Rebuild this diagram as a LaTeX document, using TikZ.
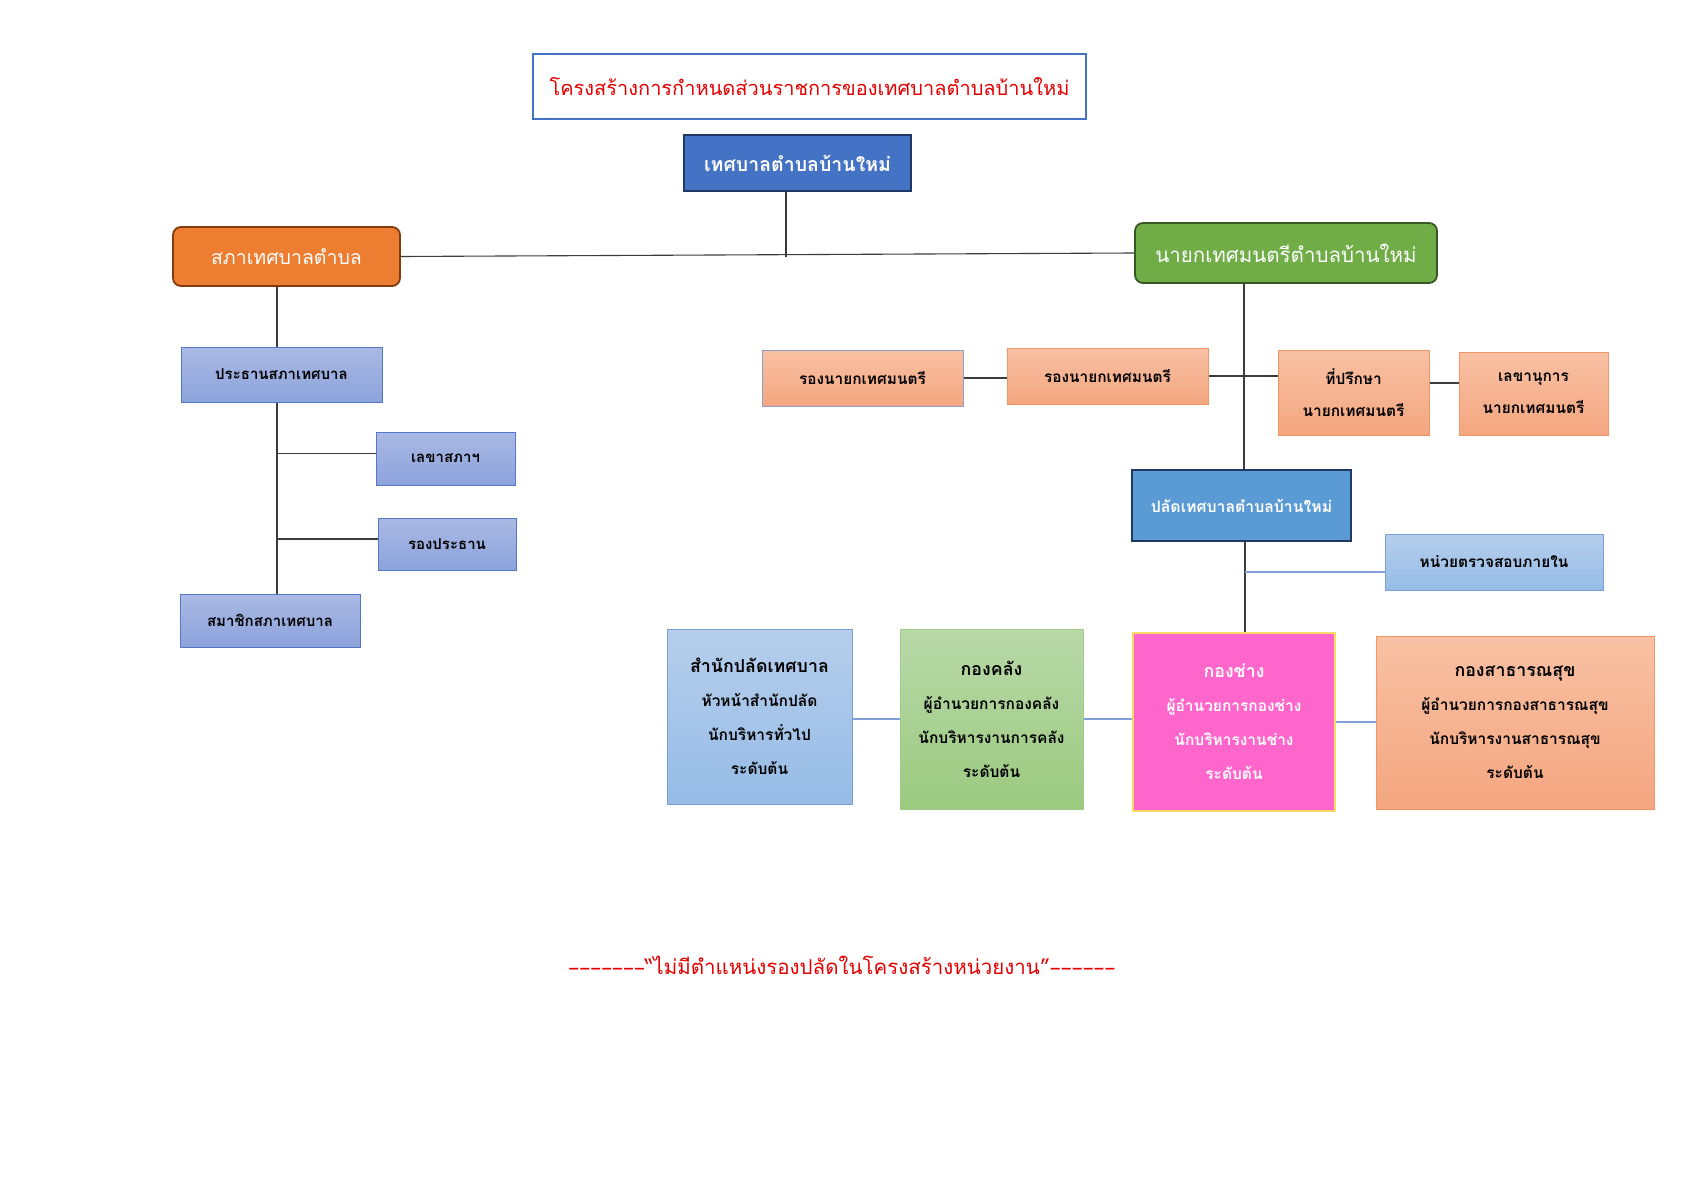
\documentclass[tikz,border=0pt]{standalone}
\usepackage{fontspec}
\usepackage{graphicx}
\newfontfamily\thaifont[Script=Thai]{Loma}
\definecolor{titlered}{RGB}{228,0,0}
\definecolor{titleblue}{RGB}{68,114,196}
\definecolor{navy}{RGB}{31,56,100}
\definecolor{topblue}{RGB}{68,114,196}
\definecolor{ngreen}{RGB}{112,173,71}
\definecolor{ngreenline}{RGB}{56,87,35}
\definecolor{norange}{RGB}{237,125,49}
\definecolor{norangeline}{RGB}{132,60,12}
\definecolor{lavtop}{RGB}{170,185,228}
\definecolor{lavbot}{RGB}{140,163,219}
\definecolor{lavline}{RGB}{84,120,200}
\definecolor{salmtop}{RGB}{248,193,163}
\definecolor{salmbot}{RGB}{244,166,128}
\definecolor{salmline}{RGB}{240,150,100}
\definecolor{greyblue}{RGB}{143,160,205}
\definecolor{paladblue}{RGB}{91,155,213}
\definecolor{lbtop}{RGB}{182,206,236}
\definecolor{lbbot}{RGB}{150,188,230}
\definecolor{lbline}{RGB}{120,160,215}
\definecolor{gtop}{RGB}{185,217,168}
\definecolor{gbot}{RGB}{155,202,128}
\definecolor{gline}{RGB}{160,205,135}
\definecolor{pink}{RGB}{255,102,204}
\definecolor{pinkline}{RGB}{255,217,102}
\definecolor{conn}{RGB}{60,60,60}
\definecolor{lconn}{RGB}{130,160,215}
\newcommand\dsh{\scalebox{1.6}[1]{-}\kern0pt}
\tikzset{
  every node/.style={font=\thaifont},
  boxbase/.style={rectangle, inner sep=0pt, align=center, anchor=center},
  titlebox/.style={boxbase, draw=titleblue, line width=1.8pt, fill=white, text=titlered, font=\thaifont\fontsize{20}{24}\selectfont},
  topbox/.style={boxbase, draw=navy, line width=2pt, fill=topblue, text=white, font=\thaifont\bfseries\fontsize{19.5}{24}\selectfont},
  greenbox/.style={boxbase, rounded corners=8pt, draw=ngreenline, line width=1.8pt, fill=ngreen, text=white, font=\thaifont\fontsize{20.5}{24}\selectfont},
  orangebox/.style={boxbase, rounded corners=8pt, draw=norangeline, line width=1.8pt, fill=norange, text=white, font=\thaifont\fontsize{19.5}{24}\selectfont},
  lavbox/.style={boxbase, draw=lavline, line width=1pt, top color=lavtop, bottom color=lavbot, text=black, font=\thaifont\bfseries\fontsize{15}{20}\selectfont},
  salmbox/.style={boxbase, draw=salmline, line width=1pt, top color=salmtop, bottom color=salmbot, text=black, font=\thaifont\bfseries\fontsize{15.4}{32}\selectfont},
  paladbox/.style={boxbase, draw=navy, line width=2pt, fill=paladblue, text=white, font=\thaifont\bfseries\fontsize{15.8}{20}\selectfont},
  lbbox/.style={boxbase, draw=lbline, line width=1pt, top color=lbtop, bottom color=lbbot, text=black, font=\thaifont\bfseries\fontsize{15.4}{20}\selectfont},
  deptfont/.style={font=\thaifont\bfseries\fontsize{15.5}{34}\selectfont},
  officebox/.style={boxbase, deptfont, draw=lbline, line width=1pt, top color=lbtop, bottom color=lbbot, text=black},
  financebox/.style={boxbase, deptfont, draw=gline, line width=1pt, top color=gtop, bottom color=gbot, text=black},
  engbox/.style={boxbase, deptfont, draw=pinkline, line width=1.2pt, fill=pink, text=white},
  healthbox/.style={boxbase, deptfont, draw=salmline, line width=1pt, top color=salmtop, bottom color=salmbot, text=black},
  footertext/.style={anchor=center, text=titlered, font=\thaifont\fontsize{20.5}{24}\selectfont},
  line/.style={draw=conn, line width=1.1pt},
  lline/.style={draw=lconn, line width=1.2pt},
}
\newcommand\headl[1]{{\fontsize{17.8}{34}\selectfont #1}}
\begin{document}
\begin{tikzpicture}[x=1pt,y=-1pt]
\useasboundingbox (0,0) rectangle (1683,1190);
\fill[white] (0,0) rectangle (1683,1190);

% nodes
\node[titlebox, minimum width=553pt, minimum height=65pt] (title) at (809.5,86.5) {โครงสร้างการกำหนดส่วนราชการของเทศบาลตำบลบ้านใหม่};
\node[topbox, minimum width=227pt, minimum height=56pt] (top) at (797.5,163) {เทศบาลตำบลบ้านใหม่};
\node[orangebox, minimum width=227pt, minimum height=59pt] (council) at (286.5,256.5) {สภาเทศบาลตำบล};
\node[greenbox, minimum width=302pt, minimum height=60pt] (mayor) at (1286,253) {นายกเทศมนตรีตำบลบ้านใหม่};

\node[lavbox, minimum width=201pt, minimum height=55pt] (pres) at (281.5,374.5) {ประธานสภาเทศบาล};
\node[lavbox, minimum width=139pt, minimum height=53pt] (lekha) at (445.5,458.5) {เลขาสภาฯ};
\node[lavbox, minimum width=138pt, minimum height=52pt] (rong) at (447,544) {รองประธาน};
\node[lavbox, minimum width=180pt, minimum height=53pt] (member) at (270,620.5) {สมาชิกสภาเทศบาล};

\node[salmbox, draw=greyblue, minimum width=201pt, minimum height=56pt] (dep1) at (862.5,378) {รองนายกเทศมนตรี};
\node[salmbox, minimum width=201pt, minimum height=56pt] (dep2) at (1107.5,376) {รองนายกเทศมนตรี};
\node[salmbox, minimum width=151pt, minimum height=85pt] (advisor) at (1353.5,392.5) {ที่ปรึกษา\\นายกเทศมนตรี};
\node[salmbox, minimum width=149pt, minimum height=83pt] (secretary) at (1533.5,393.5) {เลขานุการ\\นายกเทศมนตรี};

\node[paladbox, minimum width=219pt, minimum height=71pt] (palad) at (1241.5,505.5) {ปลัดเทศบาลตำบลบ้านใหม่};
\node[lbbox, minimum width=218pt, minimum height=56pt] (audit) at (1494,562) {หน่วยตรวจสอบภายใน};

\node[officebox, minimum width=185pt, minimum height=175pt] (office) at (759.5,716.5) {\headl{สำนักปลัดเทศบาล}\\หัวหน้าสำนักปลัด\\นักบริหารทั่วไป\\ระดับต้น};
\node[financebox, minimum width=183pt, minimum height=180pt] (finance) at (991.5,719) {\headl{กองคลัง}\\ผู้อำนวยการกองคลัง\\นักบริหารงานการคลัง\\ระดับต้น};
\node[engbox, minimum width=202pt, minimum height=178pt] (eng) at (1234,722) {\headl{กองช่าง}\\ผู้อำนวยการกองช่าง\\นักบริหารงานช่าง\\ระดับต้น};
\node[healthbox, minimum width=278pt, minimum height=173pt] (health) at (1515,722.5) {\headl{กองสาธารณสุข}\\ผู้อำนวยการกองสาธารณสุข\\นักบริหารงานสาธารณสุข\\ระดับต้น};

\node[footertext] (footer) at (842,965) {\dsh\dsh\dsh\dsh\dsh\dsh\dsh“ไม่มีตำแหน่งรองปลัดในโครงสร้างหน่วยงาน”\dsh\dsh\dsh\dsh\dsh\dsh};

% junction coordinates
\coordinate (jtop) at (786,257);
\coordinate (colL) at (277,0);
\coordinate (colR) at (1244,0);
\coordinate (colB) at (1245,0);

% connectors
\draw[line] (top.south -| jtop) -- (jtop);
\draw[line] (council.east) -- (mayor.west);
\draw[line] (council.south -| colL) -- (pres.north -| colL);
\draw[line] (pres.south -| colL) -- (member.north -| colL);
\draw[line] ([yshift=5pt]lekha.west -| colL) -- ([yshift=5pt]lekha.west);
\draw[line] ([yshift=5pt]rong.west -| colL) -- ([yshift=5pt]rong.west);

\draw[line] (mayor.south -| colR) -- (palad.north -| colR);
\draw[line] (dep1.east) -- (dep1.east -| dep2.west);
\draw[line] (dep2.east) -- (dep2.east -| advisor.west);
\draw[line] ([yshift=9.5pt]advisor.east) -- ([yshift=9.5pt]advisor.east -| secretary.west);

\draw[line] (palad.south -| colB) -- (eng.north -| colB);
\draw[lline] ([yshift=-10pt]audit.west -| colB) -- ([yshift=-10pt]audit.west);
\draw[lline] (finance.west -| office.east) -- (finance.west);
\draw[lline] (finance.east) -- (finance.east -| eng.west);
\draw[lline] (eng.east) -- (eng.east -| health.west);
\end{tikzpicture}
\end{document}
